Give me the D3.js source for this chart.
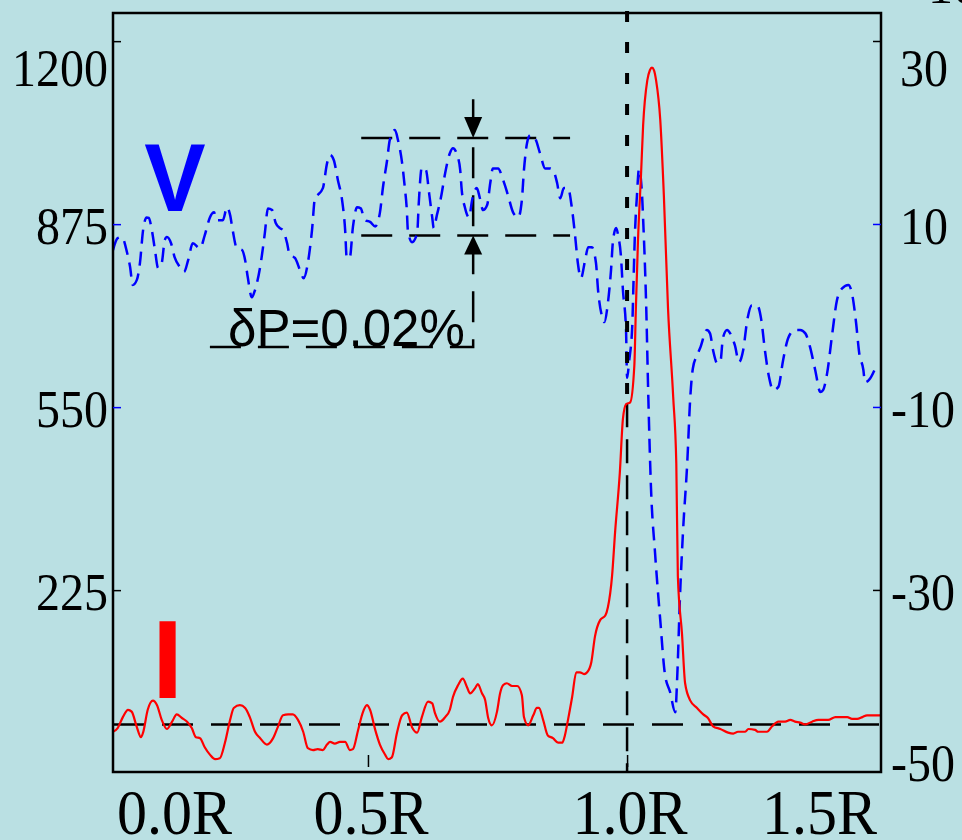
<!DOCTYPE html>
<html>
<head>
<meta charset="utf-8">
<script src="https://cdn.jsdelivr.net/npm/d3@7"></script>
<style>
body { margin: 0; background: #bae0e3; }
svg { display: block; }
</style>
</head>
<body>
<svg id="chart"></svg>
<script>
// blue dashed trace: [position (R), V] on the left axis
var vData = [[0.008,829],[0.017,850],[0.025,852],[0.035,825],[0.041,799],[0.046,767],[0.054,776],[0.060,806],[0.066,864],[0.073,887],[0.077,886],[0.083,864],[0.089,829],[0.095,797],[0.102,806],[0.108,847],[0.112,852],[0.120,841],[0.127,816],[0.137,799],[0.145,790],[0.153,811],[0.162,841],[0.176,832],[0.185,855],[0.195,887],[0.203,896],[0.208,882],[0.220,882],[0.228,905],[0.234,891],[0.239,864],[0.247,832],[0.257,829],[0.263,811],[0.268,781],[0.276,745],[0.282,758],[0.292,799],[0.301,859],[0.307,903],[0.315,900],[0.322,877],[0.330,868],[0.336,864],[0.344,841],[0.349,820],[0.359,815],[0.369,793],[0.376,779],[0.384,806],[0.392,864],[0.398,923],[0.403,927],[0.413,939],[0.421,983],[0.427,998],[0.434,989],[0.442,953],[0.450,918],[0.456,864],[0.459,815],[0.465,816],[0.471,870],[0.479,905],[0.486,903],[0.494,882],[0.504,879],[0.514,871],[0.523,895],[0.529,941],[0.537,989],[0.542,1024],[0.552,1042],[0.558,1024],[0.566,983],[0.571,941],[0.575,900],[0.577,864],[0.585,843],[0.595,859],[0.598,912],[0.604,976],[0.612,971],[0.618,930],[0.624,887],[0.627,868],[0.633,891],[0.641,923],[0.649,966],[0.658,1001],[0.664,1010],[0.672,998],[0.678,971],[0.681,935],[0.687,905],[0.695,887],[0.701,918],[0.710,939],[0.716,921],[0.722,900],[0.730,909],[0.736,948],[0.741,974],[0.751,974],[0.761,953],[0.770,927],[0.780,896],[0.790,887],[0.797,918],[0.801,971],[0.807,1019],[0.813,1033],[0.822,1028],[0.832,1001],[0.842,974],[0.851,974],[0.857,971],[0.865,948],[0.871,921],[0.878,939],[0.886,939],[0.894,900],[0.900,852],[0.905,806],[0.911,779],[0.919,811],[0.925,834],[0.932,834],[0.940,806],[0.944,758],[0.952,710],[0.956,701],[0.963,735],[0.969,793],[0.973,847],[0.979,868],[0.983,854],[0.988,820],[0.992,758],[0.998,687],[1.000,602],[1.004,632],[1.010,694],[1.012,758],[1.015,854],[1.019,925],[1.023,973],[1.029,925],[1.031,884],[1.037,726],[1.041,568],[1.046,410],[1.054,291],[1.064,172],[1.073,76],[1.083,44],[1.093,8],[1.097,76],[1.102,211],[1.108,330],[1.116,449],[1.122,568],[1.127,619],[1.135,642],[1.141,655],[1.154,687],[1.160,681],[1.166,651],[1.174,628],[1.180,630],[1.185,673],[1.193,687],[1.199,681],[1.208,660],[1.216,630],[1.224,651],[1.232,705],[1.241,731],[1.251,731],[1.259,705],[1.266,651],[1.274,603],[1.282,580],[1.292,586],[1.301,633],[1.311,673],[1.324,687],[1.334,687],[1.344,681],[1.353,657],[1.363,616],[1.373,577],[1.378,580],[1.386,610],[1.396,681],[1.405,740],[1.415,761],[1.427,767],[1.434,752],[1.442,699],[1.448,646],[1.456,616],[1.459,594],[1.469,601],[1.479,619]];

// red solid trace: [position (R), I] on the right axis
var iData = [[0.008,-45.5],[0.017,-45.1],[0.027,-43.9],[0.037,-43.1],[0.044,-43.3],[0.054,-45.0],[0.062,-46.1],[0.066,-45.6],[0.075,-43.1],[0.085,-42.1],[0.093,-42.6],[0.102,-44.2],[0.112,-45.2],[0.122,-44.4],[0.131,-43.6],[0.141,-44.0],[0.151,-44.4],[0.160,-45.1],[0.168,-46.1],[0.176,-46.2],[0.185,-47.2],[0.195,-48.0],[0.205,-48.5],[0.214,-48.4],[0.224,-46.7],[0.234,-44.2],[0.241,-42.9],[0.253,-42.6],[0.263,-42.9],[0.272,-43.9],[0.282,-45.5],[0.292,-46.2],[0.305,-46.9],[0.317,-46.2],[0.326,-45.0],[0.336,-43.7],[0.346,-43.6],[0.355,-43.6],[0.365,-44.2],[0.375,-45.5],[0.384,-47.3],[0.394,-47.5],[0.403,-47.4],[0.413,-47.5],[0.421,-46.9],[0.427,-46.6],[0.436,-46.8],[0.446,-46.6],[0.456,-46.6],[0.465,-47.5],[0.471,-47.4],[0.481,-45.3],[0.490,-43.4],[0.498,-42.6],[0.504,-43.1],[0.514,-45.3],[0.523,-46.9],[0.533,-48.0],[0.539,-48.5],[0.546,-48.3],[0.556,-45.6],[0.566,-43.7],[0.575,-43.4],[0.585,-45.0],[0.595,-45.6],[0.604,-43.9],[0.616,-42.2],[0.624,-42.4],[0.629,-43.4],[0.639,-44.4],[0.649,-43.9],[0.658,-43.1],[0.664,-41.7],[0.674,-40.4],[0.683,-39.7],[0.691,-40.6],[0.697,-41.3],[0.707,-40.7],[0.712,-40.3],[0.720,-41.3],[0.726,-42.0],[0.732,-44.0],[0.739,-44.8],[0.749,-43.3],[0.755,-41.3],[0.761,-40.4],[0.768,-40.2],[0.778,-40.5],[0.788,-40.5],[0.797,-41.5],[0.801,-43.9],[0.809,-44.8],[0.819,-43.7],[0.826,-42.9],[0.830,-42.9],[0.838,-44.2],[0.847,-45.9],[0.857,-46.2],[0.867,-46.7],[0.875,-46.7],[0.880,-45.9],[0.886,-44.2],[0.894,-41.7],[0.902,-39.0],[0.909,-39.0],[0.917,-39.2],[0.923,-39.0],[0.931,-37.9],[0.938,-35.1],[0.948,-33.3],[0.958,-32.8],[0.963,-31.9],[0.971,-28.5],[0.977,-23.6],[0.986,-17.2],[0.992,-11.3],[0.998,-9.7],[1.006,-9.5],[1.014,-5.5],[1.017,0.8],[1.021,8.1],[1.027,15.5],[1.031,20.8],[1.039,25.7],[1.044,26.8],[1.048,27.1],[1.052,26.8],[1.056,25.7],[1.064,21.4],[1.071,13.1],[1.079,0.8],[1.089,-8.9],[1.095,-16.2],[1.098,-28.5],[1.106,-34.8],[1.112,-40.2],[1.122,-42.1],[1.135,-42.9],[1.147,-43.6],[1.156,-44.0],[1.166,-44.9],[1.180,-45.2],[1.195,-45.6],[1.205,-45.7],[1.214,-45.5],[1.228,-45.5],[1.234,-45.2],[1.247,-45.3],[1.253,-45.5],[1.270,-45.5],[1.280,-44.9],[1.292,-44.4],[1.305,-44.4],[1.315,-44.2],[1.324,-44.4],[1.334,-44.5],[1.344,-44.7],[1.357,-44.4],[1.369,-44.2],[1.388,-44.2],[1.402,-43.9],[1.425,-43.9],[1.434,-44.1],[1.444,-44.1],[1.454,-43.9],[1.463,-43.7],[1.488,-43.7]];

// axes
var vTicks = [1200, 875, 550, 225];
var iTicks = [30, 10, -10, -30];
var iLabels = [30, 10, -10, -30, -50];
var xLabels = [0.0, 0.5, 1.0, 1.5];
var xTicks = [0.5, 1.0];

// reference marks
var iBase = -44.7;          // red baseline level
var markR = 1.0;            // vertical marker position
var markSplitI = -9.6;      // where dotted marker turns to dashed
var bandV = [1028, 855];    // dP band on V
var bandR = [0.487, 0.890];
var deltaR = 0.703;
var deltaTopV = 1101, deltaBaseV = 657, deltaLeftR = 0.195, deltaTextR = 0.230;

var width = 962, height = 840;
var frame = {left: 113, right: 881, top: 13, bottom: 772};
var serif = "'Liberation Serif','Times New Roman',serif";
var sans = "'Liberation Sans',Arial,sans-serif";

var svg = d3.select("#chart")
  .attr("width", width)
  .attr("height", height);

svg.append("rect")
  .attr("width", width).attr("height", height)
  .attr("fill", "#bae0e3");

var x = d3.scaleLinear().domain([0.008, 1.49]).range([frame.left, frame.right]);
var yV = d3.scaleLinear().domain([-98, 1250]).range([frame.bottom, frame.top]);
var yI = d3.scaleLinear().domain([-49.9, 33.06]).range([frame.bottom, frame.top]);

svg.append("clipPath").attr("id", "clip")
  .append("rect")
  .attr("x", frame.left).attr("y", frame.top)
  .attr("width", frame.right - frame.left)
  .attr("height", frame.bottom - frame.top);

var plot = svg.append("g").attr("clip-path", "url(#clip)");

// red baseline
plot.append("line")
  .attr("x1", frame.left).attr("x2", frame.right)
  .attr("y1", yI(iBase)).attr("y2", yI(iBase))
  .attr("stroke", "black").attr("stroke-width", 2.5)
  .attr("stroke-dasharray", "31,18");

// vertical marker, dashed part
plot.append("line")
  .attr("x1", x(markR)).attr("x2", x(markR))
  .attr("y1", yI(markSplitI)).attr("y2", frame.bottom)
  .attr("stroke", "black").attr("stroke-width", 2.5)
  .attr("stroke-dasharray", "24,12");

// dP band lines
bandV.forEach(function(v) {
  plot.append("line")
    .attr("x1", x(bandR[0])).attr("x2", x(bandR[1]))
    .attr("y1", yV(v)).attr("y2", yV(v))
    .attr("stroke", "black").attr("stroke-width", 2.5)
    .attr("stroke-dasharray", "31,17");
});

// dP bracket
plot.append("path")
  .attr("d", "M" + x(deltaLeftR) + "," + yV(deltaBaseV) +
    "L" + x(deltaR) + "," + yV(deltaBaseV) +
    "L" + x(deltaR) + "," + yV(deltaTopV))
  .attr("fill", "none")
  .attr("stroke", "black").attr("stroke-width", 2.5)
  .attr("stroke-dasharray", "31,17");

// arrow heads
var ax = x(deltaR);
plot.append("path")
  .attr("d", "M" + (ax - 9) + "," + (yV(bandV[0]) - 21) + "L" + (ax + 9) + "," + (yV(bandV[0]) - 21) + "L" + ax + "," + yV(bandV[0]) + "Z")
  .attr("fill", "black");
plot.append("path")
  .attr("d", "M" + (ax - 9) + "," + (yV(bandV[1]) + 19) + "L" + (ax + 9) + "," + (yV(bandV[1]) + 19) + "L" + ax + "," + yV(bandV[1]) + "Z")
  .attr("fill", "black");

// V curve
var vLine = d3.line()
  .x(function(d) { return x(d[0]); })
  .y(function(d) { return yV(d[1]); })
  .curve(d3.curveMonotoneX);

plot.append("path")
  .datum(vData)
  .attr("d", vLine)
  .attr("fill", "none")
  .attr("stroke", "#0000ff")
  .attr("stroke-width", 2.5)
  .attr("stroke-dasharray", "14,8");

// I curve
var iLine = d3.line()
  .x(function(d) { return x(d[0]); })
  .y(function(d) { return yI(d[1]); })
  .curve(d3.curveMonotoneX);

plot.append("path")
  .datum(iData)
  .attr("d", iLine)
  .attr("fill", "none")
  .attr("stroke", "#ff0000")
  .attr("stroke-width", 2.2);

// vertical marker, dotted part (runs slightly over the frame)
svg.append("line")
  .attr("x1", x(markR)).attr("x2", x(markR))
  .attr("y1", frame.top - 2).attr("y2", yI(markSplitI))
  .attr("stroke", "black").attr("stroke-width", 4)
  .attr("stroke-dasharray", "11,20");

// frame
svg.append("rect")
  .attr("x", frame.left).attr("y", frame.top)
  .attr("width", frame.right - frame.left)
  .attr("height", frame.bottom - frame.top)
  .attr("fill", "none")
  .attr("stroke", "black")
  .attr("stroke-width", 2.5);

var tickColor = ["black", "#0000ff", "#0000ff", "black"];

// left ticks (inside)
var leftAxis = svg.append("g")
  .attr("transform", "translate(" + frame.left + ",0)")
  .call(d3.axisRight(yV).tickValues(vTicks).tickSize(8).tickFormat(""));
leftAxis.select(".domain").remove();
leftAxis.selectAll(".tick line")
  .attr("stroke", function(d, i) { return tickColor[i]; })
  .attr("stroke-width", 1.5);

// right ticks (inside)
var rightAxis = svg.append("g")
  .attr("transform", "translate(" + frame.right + ",0)")
  .call(d3.axisLeft(yI).tickValues(iTicks).tickSize(8).tickFormat(""));
rightAxis.select(".domain").remove();
rightAxis.selectAll(".tick line")
  .attr("stroke", function(d, i) { return tickColor[i]; })
  .attr("stroke-width", 1.5);

// bottom ticks, floating just above the axis
var bottomAxis = svg.append("g")
  .attr("transform", "translate(0," + (frame.bottom - 5) + ")")
  .call(d3.axisTop(x).tickValues(xTicks).tickSize(12).tickFormat(""));
bottomAxis.select(".domain").remove();
bottomAxis.selectAll(".tick line").attr("stroke", "black").attr("stroke-width", 1.5);

// tick labels
var edgeShift = {"1200": 27, "30": 27, "-50": -10};

svg.selectAll(".vlab")
  .data(vTicks)
  .enter()
  .append("text")
  .attr("class", "vlab")
  .attr("transform", function(d) {
    return "translate(108," + (yV(d) + (edgeShift[d] || 2)) + ") scale(1,1.12)";
  })
  .attr("dy", "0.34em")
  .attr("text-anchor", "end")
  .style("font-family", serif)
  .style("font-size", "48px")
  .text(function(d) { return d; });

svg.selectAll(".ilab")
  .data(iLabels)
  .enter()
  .append("text")
  .attr("class", "ilab")
  .attr("transform", function(d) {
    var px = d < 0 ? 891 : 900;
    return "translate(" + px + "," + (yI(d) + (edgeShift[d] || 2)) + ") scale(1,1.12)";
  })
  .attr("dy", "0.34em")
  .attr("text-anchor", "start")
  .style("font-family", serif)
  .style("font-size", "48px")
  .text(function(d) { return d; });

svg.selectAll(".xlab")
  .data(xLabels)
  .enter()
  .append("text")
  .attr("class", "xlab")
  .attr("transform", function(d, i) {
    var px = i === 0 ? frame.left + 4 : (i === xLabels.length - 1 ? frame.right - 4 : x(d) + 3);
    return "translate(" + px + ",834) scale(1,1.05)";
  })
  .attr("text-anchor", function(d, i) { return i === 0 ? "start" : (i === xLabels.length - 1 ? "end" : "middle"); })
  .style("font-family", serif)
  .style("font-size", "60px")
  .text(function(d) { return d.toFixed(1) + "R"; });

// cut-off label at the top right
svg.append("text")
  .attr("x", 928).attr("y", 3)
  .style("font-family", serif)
  .style("font-size", "50px")
  .text("10");

// dP text
svg.append("text")
  .attr("x", x(deltaTextR))
  .attr("y", yV(deltaBaseV) - 1)
  .style("font-family", sans)
  .style("font-size", "51px")
  .text("\u03b4P=0.02%");

// series letters
svg.append("text")
  .attr("transform", "translate(175,211) scale(1,1.05)")
  .attr("text-anchor", "middle")
  .style("font-family", sans)
  .style("font-weight", "bold")
  .style("font-size", "92px")
  .style("fill", "#0000ff")
  .text("V");

svg.append("text")
  .attr("x", 167.5).attr("y", 698)
  .attr("text-anchor", "middle")
  .style("font-family", sans)
  .style("font-weight", "bold")
  .style("font-size", "112px")
  .style("fill", "#ff0000")
  .text("I");
</script>
</body>
</html>
